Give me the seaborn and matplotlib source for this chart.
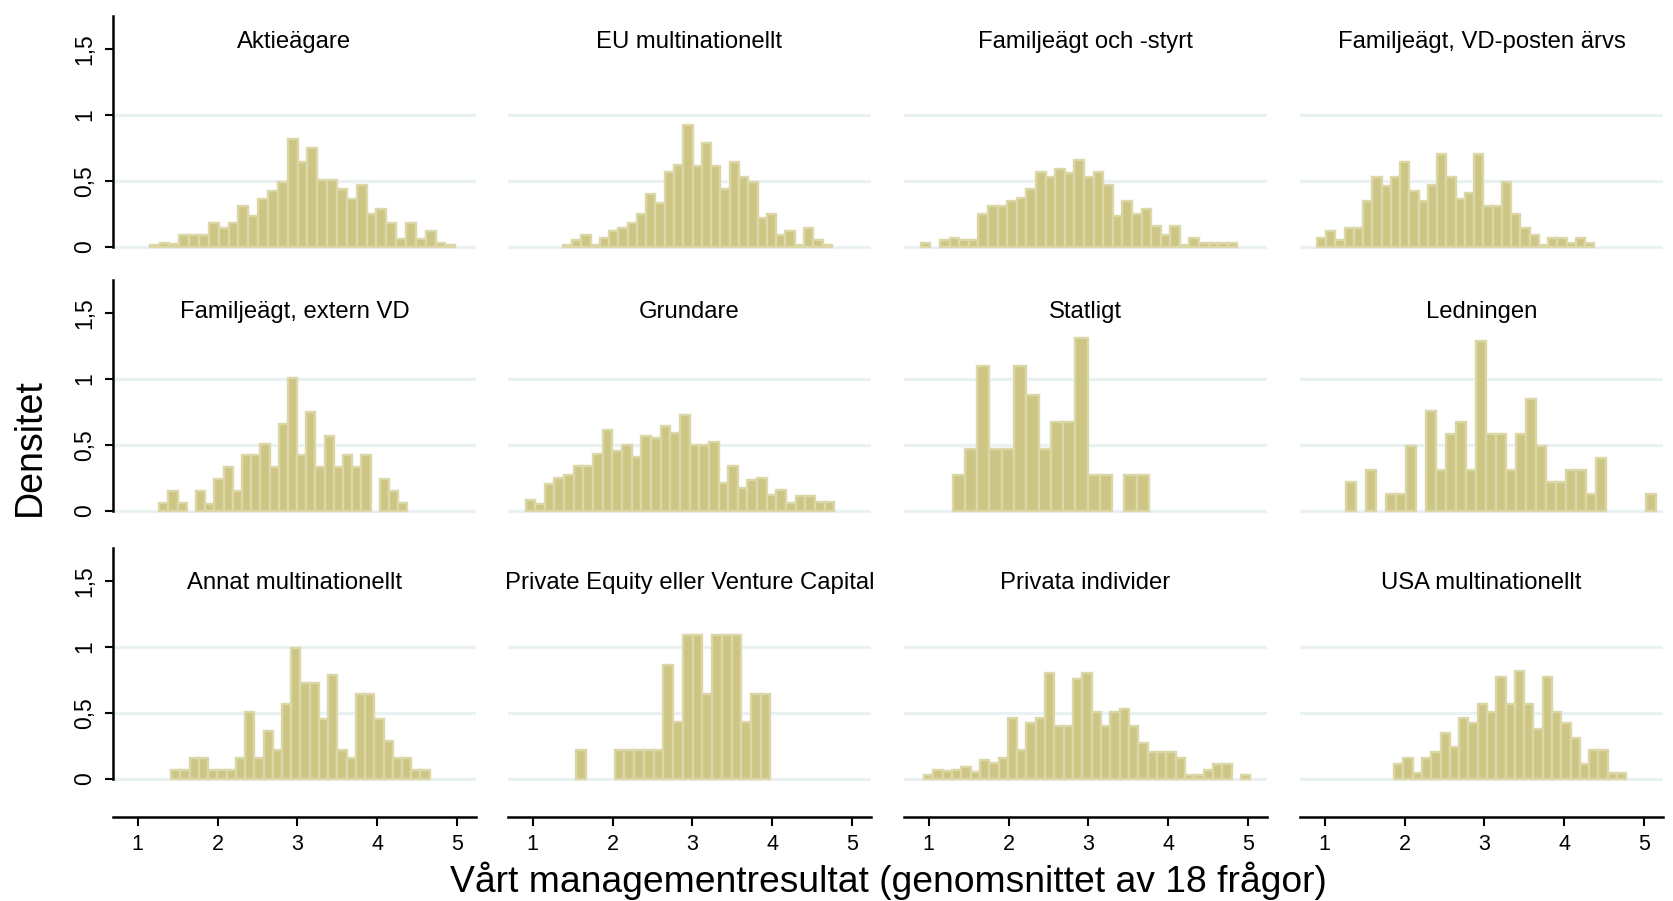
import matplotlib.pyplot as plt
import numpy as np
import pandas as pd
import seaborn as sns

sns.set_style("white")
plt.rcParams["font.family"] = ["Liberation Sans", "DejaVu Sans"]
plt.rcParams["text.color"] = "black"
plt.rcParams["xtick.color"] = "black"
plt.rcParams["ytick.color"] = "black"

panel_titles = [
    "Aktieägare", "EU multinationellt", "Familjeägt och -styrt", "Familjeägt, VD-posten ärvs",
    "Familjeägt, extern VD", "Grundare", "Statligt", "Ledningen",
    "Annat multinationellt", "Private Equity eller Venture Capital", "Privata individer", "USA multinationellt",
]

# (first bin edge, last bin edge) per panel
bin_ranges = [
    (1.15, 4.98), (1.375, 4.75), (0.90, 4.87), (0.90, 4.38),
    (1.27, 4.38), (0.91, 4.78), (1.30, 3.76), (1.27, 5.15),
    (1.42, 4.66), (1.54, 3.98), (0.94, 5.03), (1.87, 4.78),
]

# densities
h_aktieagare = [0.01, 0.03, 0.02, 0.09, 0.09, 0.09, 0.18, 0.14, 0.18, 0.31, 0.23, 0.36, 0.42, 0.49, 0.82, 0.64,
                0.75, 0.51, 0.51, 0.44, 0.36, 0.47, 0.25, 0.29, 0.18, 0.06, 0.18, 0.06, 0.12, 0.03, 0.01]
h_eu = [0.01, 0.05, 0.09, 0.01, 0.07, 0.12, 0.14, 0.18, 0.25, 0.40, 0.33, 0.57, 0.62, 0.92, 0.61, 0.79,
        0.61, 0.44, 0.64, 0.53, 0.49, 0.22, 0.25, 0.09, 0.12, 0.01, 0.14, 0.05, 0.01]
h_fam_styrt = [0.025, 0, 0.05, 0.07, 0.05, 0.05, 0.25, 0.31, 0.31, 0.35, 0.37, 0.44, 0.57, 0.53, 0.59, 0.56, 0.66,
               0.53, 0.57, 0.47, 0.23, 0.35, 0.25, 0.29, 0.16, 0.09, 0.16, 0.01, 0.07, 0.025, 0.025, 0.025, 0.025]
h_fam_arvs = [0.07, 0.12, 0.05, 0.14, 0.14, 0.35, 0.53, 0.46, 0.53, 0.64, 0.42, 0.35, 0.47, 0.70, 0.53, 0.36,
              0.41, 0.70, 0.31, 0.31, 0.49, 0.25, 0.14, 0.09, 0.01, 0.07, 0.07, 0.03, 0.07, 0.03]
h_fam_extern = [0.06, 0.15, 0.06, 0, 0.15, 0.05, 0.24, 0.33, 0.15, 0.42, 0.42, 0.51, 0.33, 0.66, 1.01, 0.42,
                0.75, 0.33, 0.57, 0.33, 0.42, 0.33, 0.42, 0, 0.24, 0.15, 0.06]
h_grundare = [0.08, 0.05, 0.20, 0.25, 0.27, 0.34, 0.34, 0.43, 0.61, 0.45, 0.50, 0.41, 0.57, 0.55, 0.64, 0.59,
              0.73, 0.50, 0.50, 0.52, 0.21, 0.34, 0.17, 0.23, 0.25, 0.12, 0.16, 0.06, 0.11, 0.11, 0.07, 0.07]
h_statligt = [0.27, 0.47, 1.10, 0.47, 0.47, 1.10, 0.88, 0.47, 0.67, 0.67, 1.31, 0.27, 0.27, 0, 0.27, 0.27]
h_ledningen = [0.22, 0, 0.31, 0, 0.13, 0.13, 0.49, 0, 0.76, 0.31, 0.58, 0.67, 0.31, 1.29, 0.58, 0.58,
               0.31, 0.58, 0.85, 0.49, 0.22, 0.22, 0.31, 0.31, 0.13, 0.40, 0, 0, 0, 0, 0.13]
h_annat = [0.07, 0.07, 0.155, 0.155, 0.07, 0.07, 0.07, 0.155, 0.51, 0.155, 0.36, 0.22, 0.57, 0.99, 0.73, 0.73,
           0.45, 0.79, 0.22, 0.155, 0.64, 0.64, 0.45, 0.29, 0.155, 0.155, 0.07, 0.07]
h_pe_vc = [0.22, 0, 0, 0, 0.22, 0.22, 0.22, 0.22, 0.22, 0.86, 0.43, 1.09, 1.09, 0.64, 1.09, 1.09,
           1.09, 0.43, 0.64, 0.64]
h_privata = [0.025, 0.07, 0.06, 0.07, 0.09, 0.05, 0.14, 0.12, 0.155, 0.46, 0.22, 0.42, 0.46, 0.80, 0.40, 0.40,
             0.76, 0.80, 0.51, 0.40, 0.51, 0.53, 0.40, 0.27, 0.20, 0.20, 0.20, 0.155, 0.025, 0.025, 0.07, 0.11,
             0.11, 0, 0.025]
h_usa = [0.11, 0.155, 0.045, 0.155, 0.20, 0.35, 0.24, 0.46, 0.42, 0.57, 0.51, 0.77, 0.57, 0.82, 0.57, 0.38,
         0.77, 0.51, 0.42, 0.31, 0.11, 0.22, 0.22, 0.045, 0.045]

panel_heights = [h_aktieagare, h_eu, h_fam_styrt, h_fam_arvs,
                 h_fam_extern, h_grundare, h_statligt, h_ledningen,
                 h_annat, h_pe_vc, h_privata, h_usa]

y_ticks = [0, 0.5, 1, 1.5]
y_tick_labels = ["0", "0,5", "1", "1,5"]
x_ticks = [1, 2, 3, 4, 5]
grid_levels = [0, 0.5, 1]

bar_fill = "#CCC584"
bar_edge = "#DBD7A6"
grid_color = "#EAF1F2"

W, H = 1673, 901
fig = plt.figure(figsize=(W / 100, H / 100), dpi=100)

col_left = [113, 508, 904, 1300]
row_bottom = [285, 549, 817]
pw, ph = 363, 269
title_y = [0.905, 0.88, 0.87]

for i, (title, (lo, hi), heights) in enumerate(zip(panel_titles, bin_ranges, panel_heights)):
    r, c = divmod(i, 4)
    ax = fig.add_axes([col_left[c] / W, 1 - row_bottom[r] / H, pw / W, ph / H])
    edges = np.linspace(lo, hi, len(heights) + 1)
    df = pd.DataFrame({"score": (edges[:-1] + edges[1:]) / 2, "density": heights})
    sns.histplot(data=df, x="score", weights="density", bins=list(edges), ax=ax, color=bar_fill,
                 edgecolor=bar_edge, linewidth=1.7, alpha=1, zorder=3)
    # empty bins: no outline along the baseline
    for p in ax.patches:
        if p.get_height() == 0:
            p.set_visible(False)
    for g in grid_levels:
        ax.axhline(g, color=grid_color, lw=2.3, zorder=1)

    ax.set_xlim(0.69, 5.24)
    ax.set_ylim(-0.29, 1.75)
    ax.set_xlabel("")
    ax.set_ylabel("")
    ax.text(0.5, title_y[r], title, transform=ax.transAxes, ha="center", va="center", fontsize=17.2)

    for s in ax.spines.values():
        s.set_visible(False)

    if c == 0:
        ax.spines["left"].set_visible(True)
        ax.spines["left"].set_color("black")
        ax.spines["left"].set_linewidth(1.8)
        ax.spines["left"].set_bounds(0, 1.75)
        ax.set_yticks(y_ticks, y_tick_labels)
        ax.tick_params(axis="y", left=True, length=6, width=1.5, color="black", labelsize=16.5, pad=6)
        plt.setp(ax.get_yticklabels(), rotation=90, va="center")
    else:
        ax.set_yticks([])

    if r == 2:
        ax.spines["bottom"].set_visible(True)
        ax.spines["bottom"].set_color("black")
        ax.spines["bottom"].set_linewidth(1.8)
        ax.set_xticks(x_ticks, [str(t) for t in x_ticks])
        ax.tick_params(axis="x", bottom=True, length=6.5, width=1.5, color="black", labelsize=15.5, pad=6)
    else:
        ax.set_xticks([])

fig.text(30 / W, 1 - 447 / H, "Densitet", rotation=90, ha="center", va="center", fontsize=27)
fig.text(888 / W, 1 - 881 / H, "Vårt managementresultat (genomsnittet av 18 frågor)",
         ha="center", va="center", fontsize=26.8)

fig.savefig("out.png", dpi=100)
